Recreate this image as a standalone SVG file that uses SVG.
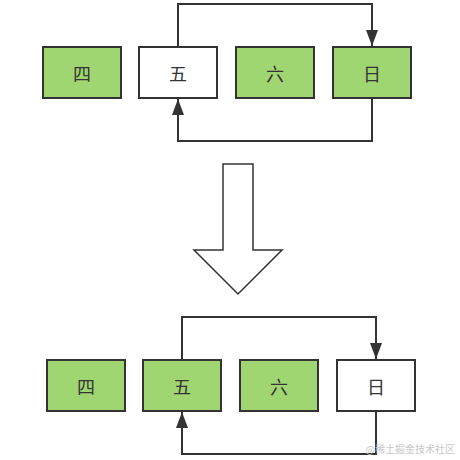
<svg xmlns="http://www.w3.org/2000/svg" width="460" height="460" viewBox="0 0 460 460">
<style>
.box{stroke:#333;stroke-width:2}
.g{fill:#a0d672}
.w{fill:#fff}
.t{font-family:"Noto Sans CJK SC","Noto Sans CJK JP",sans-serif;font-size:18px;fill:#333;text-anchor:middle;dominant-baseline:central}
.c{fill:none;stroke:#333;stroke-width:2}
</style>
<defs>
<marker id="ah" viewBox="0 0 16 12" refX="16" refY="6" markerWidth="8" markerHeight="6" orient="auto" markerUnits="strokeWidth">
<path d="M0,0 L16,6 L0,12 Z" fill="#333"/>
</marker>
</defs>
<rect width="460" height="460" fill="#fff"/>
<g id="connectors">
<path class="c" d="M178,47 V4 H372 V46" marker-end="url(#ah)"/>
<path class="c" d="M372,98 V141 H178 V99" marker-end="url(#ah)"/>
<path class="c" d="M182,360 V317 H376 V359" marker-end="url(#ah)"/>
<path class="c" d="M376,411 V454 H182 V412" marker-end="url(#ah)"/>
</g>
<g id="top-si"><rect class="box g" x="43" y="47" width="78" height="51"/><text class="t" x="82" y="72.5">四</text></g>
<g id="top-wu"><rect class="box w" x="139" y="47" width="78" height="51"/><text class="t" x="178" y="72.5">五</text></g>
<g id="top-liu"><rect class="box g" x="236" y="47" width="78" height="51"/><text class="t" x="275" y="72.5">六</text></g>
<g id="top-ri"><rect class="box g" x="333" y="47" width="78" height="51"/><text class="t" x="372" y="72.5">日</text></g>
<g id="big-arrow"><path d="M223,164 H253 V250 H282 L238,294 L194,250 H223 Z" fill="#fff" stroke="#333" stroke-width="1.5"/></g>
<g id="bot-si"><rect class="box g" x="47" y="360" width="78" height="51"/><text class="t" x="86" y="385.5">四</text></g>
<g id="bot-wu"><rect class="box g" x="143" y="360" width="78" height="51"/><text class="t" x="182" y="385.5">五</text></g>
<g id="bot-liu"><rect class="box g" x="240" y="360" width="78" height="51"/><text class="t" x="279" y="385.5">六</text></g>
<g id="bot-ri"><rect class="box w" x="337" y="360" width="78" height="51"/><text class="t" x="376" y="385.5">日</text></g>
<text x="455" y="453" text-anchor="end" font-family="'Noto Sans CJK SC',sans-serif" font-size="10" fill="#c8c8c8">@稀土掘金技术社区</text>
</svg>
